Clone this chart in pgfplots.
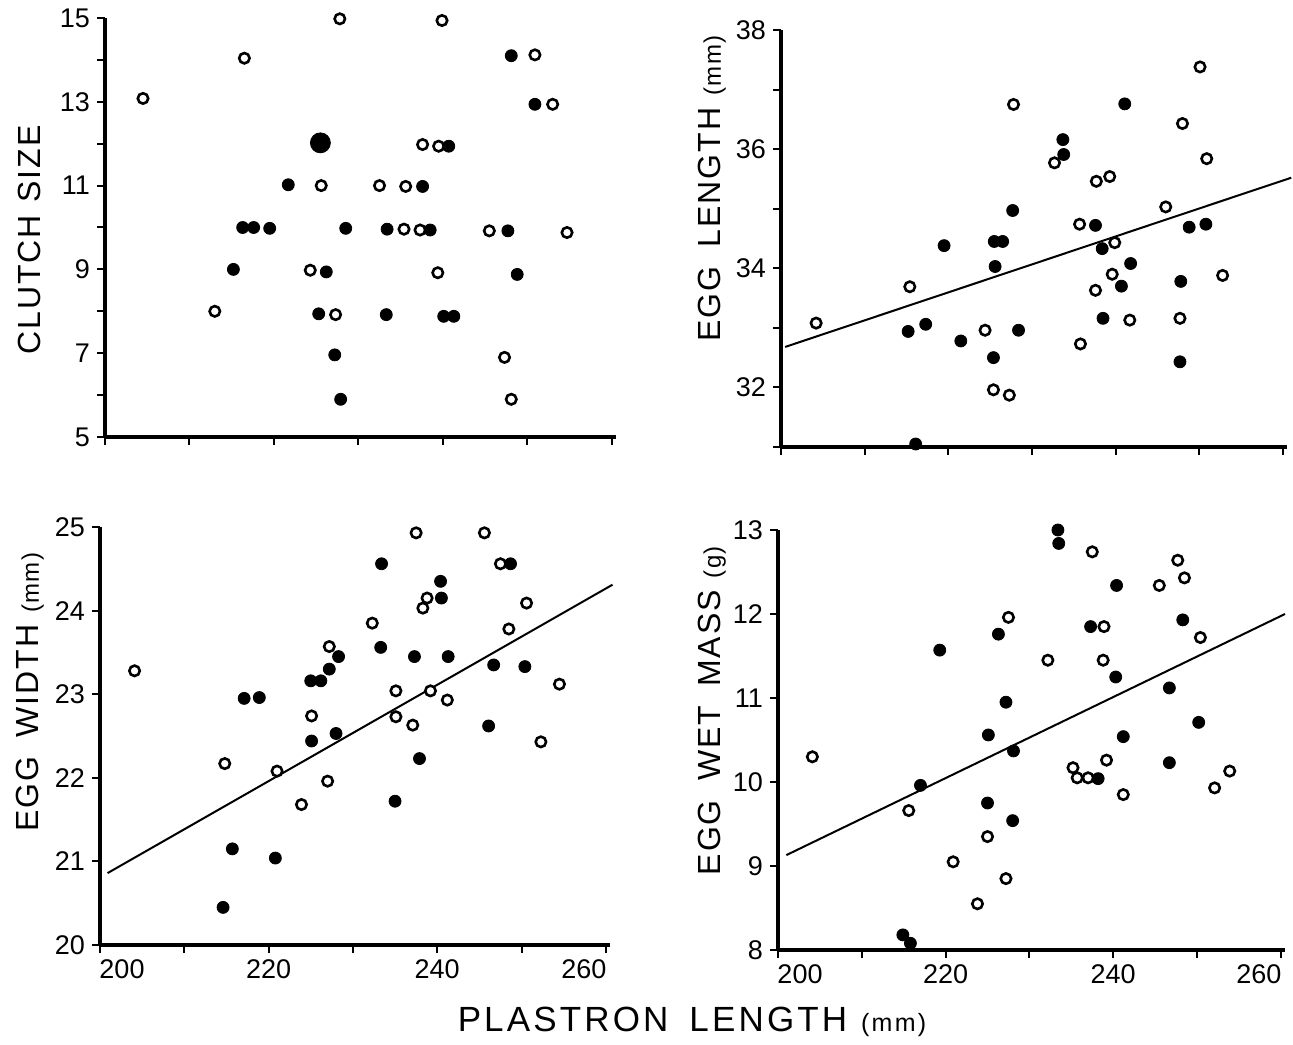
\documentclass[border=0pt]{standalone}
\usepackage{fontspec}
\setmainfont{Liberation Sans}
\newfontfamily\labfont[LetterSpace=6]{Liberation Sans}
\newfontfamily\xlabfont[LetterSpace=9]{Liberation Sans}
\usepackage{pgfplots}
\pgfplotsset{compat=1.18}
\newcommand{\lab}[1]{{\labfont\fontsize{16}{18}\selectfont #1}}
\newcommand{\unit}[1]{{\labfont\fontsize{12}{14}\selectfont #1}}
\pgfplotsset{
  panel/.style={
    scale only axis,
    axis x line*=bottom, axis y line*=left,
    axis line style={line width=2.2pt,-},
    tick align=outside,
    major tick length=4pt, minor tick length=4pt,
    every tick/.style={line width=1pt,black},
    xmin=200, xmax=260.5,
    xtick={200,220,240,260}, minor xtick={210,230,250},
    clip=false,
    /pgf/number format/assume math mode=true,
    tick label style={font=\fontsize{13.5}{13.5}\selectfont},
    /pgf/number format/1000 sep={},
  },
  botx/.style={xticklabels={\hspace*{22pt}200,220,240,\hspace*{-22pt}260}},
  opn/.style={only marks, mark=*, mark size=2.6pt, mark options={draw=black, fill=white, line width=1.3pt}},
  fld/.style={only marks, mark=*, mark size=3pt, mark options={draw=black, fill=black}},
  reg/.style={black, line width=1pt, no marks},
}
\begin{document}
\begin{tikzpicture}
\useasboundingbox (0,0) rectangle (646.5pt,522pt);
% Top-left: clutch size
\begin{axis}[panel, at={(52.5pt,303.5pt)}, anchor=south west, width=255.5pt, height=209.5pt,
  ymin=5, ymax=15, ytick={5,7,9,11,13,15}, minor ytick={6,8,10,12,14}, xticklabels={},
  ylabel={\lab{CLUTCH\hspace{0.4em}SIZE}},
  ylabel style={at={(axis description cs:-0.147,0.47)}, anchor=center, rotate=0}]
\addplot[opn] coordinates {
(204.5,13.08) (216.5,14.04) (227.8,14.98) (239.9,14.94) (250.9,14.12) (253.0,12.94)
(237.6,11.98) (239.5,11.94) (225.6,11.0) (232.5,11.0) (235.6,10.98) (235.4,9.96)
(237.3,9.94) (245.5,9.92) (254.7,9.88) (224.3,8.98) (239.4,8.92) (213.0,8.0)
(227.3,7.92) (247.3,6.9) (248.1,5.9)};
\addplot[fld] coordinates {
(248.1,14.10) (250.9,12.94) (240.7,11.94) (221.7,11.02) (237.6,10.98) (216.3,10.0)
(217.6,10.0) (219.5,9.98) (228.5,9.98) (233.4,9.96) (238.5,9.94) (247.7,9.92)
(215.2,9.0) (226.2,8.94) (248.8,8.88) (225.3,7.94) (233.3,7.92) (240.1,7.88)
(241.3,7.88) (227.2,6.96) (227.9,5.9)};
\addplot[only marks, mark=*, mark size=5pt, mark options={draw=black, fill=black}] coordinates {(225.5,12.02)};
\end{axis}
% Top-right: egg length
\begin{axis}[panel, at={(390.5pt,298.5pt)}, anchor=south west, width=253pt, height=208.5pt,
  ymin=31, ymax=38, ytick={32,34,36,38}, minor ytick={31,33,35,37}, xticklabels={},
  ylabel={\lab{EGG\hspace{0.6em}LENGTH}\hspace{0.6em}\unit{(mm)}},
  ylabel style={at={(axis description cs:-0.136,0.62)}, anchor=center, rotate=0}]
\addplot[reg] coordinates {(200.5,32.68) (261,35.52)};
\addplot[opn] coordinates {
(204.2,33.08) (215.4,33.69) (224.4,32.96) (225.4,31.96) (227.3,31.87) (227.8,36.75)
(232.7,35.77) (235.7,34.74) (235.8,32.73) (237.7,35.46) (239.3,35.54) (237.6,33.63)
(239.9,34.43) (239.6,33.90) (241.7,33.13) (246.0,35.03) (248.0,36.43) (247.7,33.16)
(250.1,37.38) (250.9,35.84) (252.8,33.88)};
\addplot[fld] coordinates {
(215.2,32.94) (217.3,33.06) (216.1,31.05) (219.5,34.38) (221.5,32.78) (225.5,34.45)
(226.5,34.45) (225.6,34.03) (225.4,32.50) (227.7,34.97) (228.4,32.96) (233.7,36.16)
(233.8,35.91) (237.6,34.72) (238.4,34.33) (238.5,33.16) (240.7,33.70) (241.8,34.08)
(241.1,36.76) (247.8,33.78) (247.7,32.43) (248.8,34.69) (250.8,34.74)};
\end{axis}
% Bottom-left: egg width
\begin{axis}[panel, botx, at={(50pt,49.5pt)}, anchor=south west, width=255pt, height=209pt,
  ymin=20, ymax=25, ytick={20,21,22,23,24,25},
  ylabel={\lab{EGG\hspace{0.6em}WIDTH}\hspace{0.6em}\unit{(mm)}},
  ylabel style={at={(axis description cs:-0.137,0.605)}, anchor=center, rotate=0}]
\addplot[reg] coordinates {(200.9,20.86) (260.8,24.31)};
\addplot[opn] coordinates {
(204.1,23.28) (214.8,22.17) (221.0,22.08) (223.9,21.68) (225.1,22.74) (227.2,23.57)
(227.0,21.96) (232.3,23.85) (235.1,23.04) (235.1,22.73) (237.5,24.93) (237.1,22.63)
(238.3,24.03) (238.8,24.15) (239.2,23.04) (241.2,22.93) (245.6,24.93) (247.5,24.56)
(248.5,23.78) (250.6,24.09) (252.3,22.43) (254.5,23.12)};
\addplot[fld] coordinates {
(217.1,22.95) (218.9,22.96) (215.7,21.15) (214.6,20.45) (220.8,21.04) (225.1,22.44)
(225.0,23.16) (226.2,23.16) (227.2,23.30) (228.3,23.45) (228.0,22.53) (233.4,24.56)
(233.3,23.56) (235.0,21.72) (237.3,23.45) (237.9,22.23) (240.4,24.35) (240.5,24.15)
(241.3,23.45) (248.7,24.56) (246.7,23.35) (246.1,22.62) (250.4,23.33)};
\end{axis}
% Bottom-right: egg wet mass
\begin{axis}[panel, botx, at={(389pt,47pt)}, anchor=south west, width=253.5pt, height=210pt,
  ymin=8, ymax=13, ytick={8,9,10,11,12,13},
  ylabel={\lab{EGG\hspace{0.6em}WET\hspace{0.6em}MASS}\hspace{0.6em}\unit{(g)}},
  ylabel style={at={(axis description cs:-0.13,0.57)}, anchor=center, rotate=0}]
\addplot[reg] coordinates {(201,9.13) (260.5,12.0)};
\addplot[opn] coordinates {
(204.1,10.30) (215.6,9.66) (220.9,9.05) (223.8,8.55) (225.0,9.35) (227.5,11.96)
(227.2,8.85) (232.2,11.45) (235.2,10.17) (235.7,10.05) (237.0,10.05) (237.5,12.74)
(238.9,11.85) (238.8,11.45) (239.2,10.26) (241.2,9.85) (245.5,12.34) (247.7,12.64)
(248.5,12.43) (250.4,11.72) (252.1,9.93) (253.9,10.13)};
\addplot[fld] coordinates {
(214.9,8.18) (215.8,8.08) (217.0,9.96) (219.3,11.57) (225.0,9.75) (225.1,10.56)
(226.3,11.76) (227.2,10.95) (228.1,10.37) (228.0,9.54) (233.4,13.0) (233.5,12.84)
(238.2,10.04) (237.3,11.85) (240.3,11.25) (240.4,12.34) (241.2,10.54) (248.3,11.93)
(246.7,11.12) (246.7,10.23) (250.2,10.71)};
\end{axis}
\node at (346pt,11pt) {{\xlabfont\fontsize{17.5}{19}\selectfont PLASTRON\hspace{0.6em}LENGTH}\hspace{0.7em}{\xlabfont\fontsize{12.5}{14}\selectfont (mm)}};
\end{tikzpicture}
\end{document}
